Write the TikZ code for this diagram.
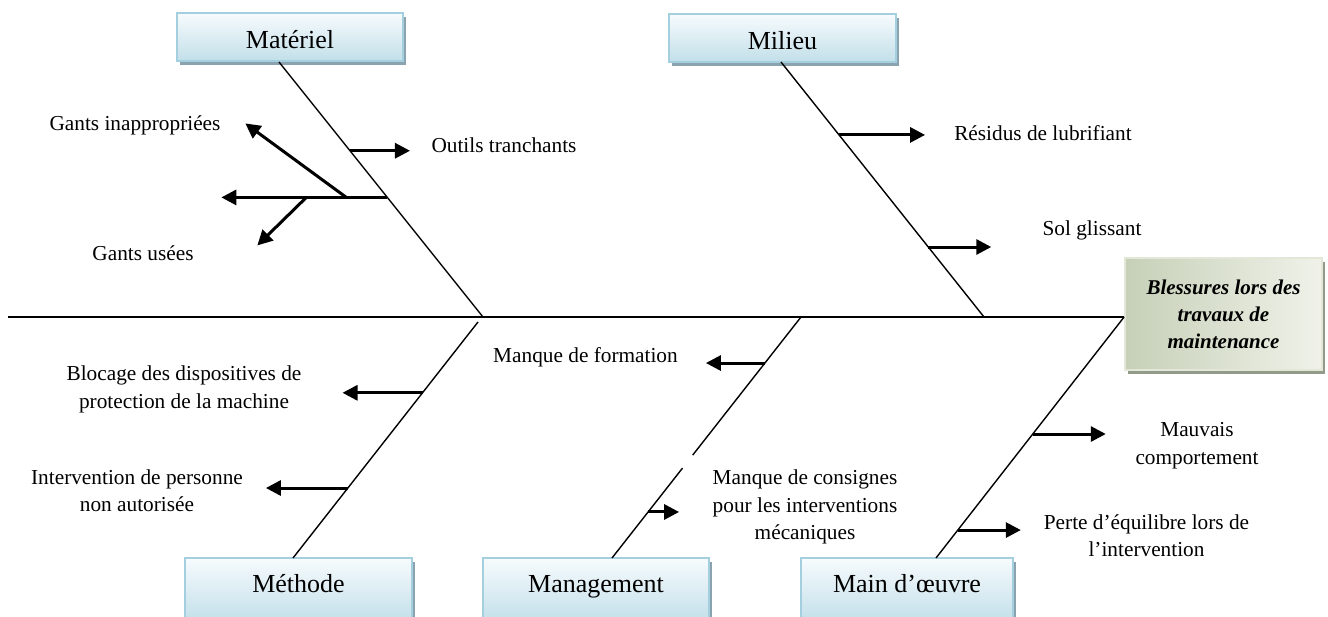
\documentclass[tikz,border=0pt]{standalone}
\usepackage{fontspec}
\setmainfont{Liberation Serif}
\usetikzlibrary{arrows.meta,calc,shadows}

\definecolor{boxedge}{RGB}{163,207,222}
\definecolor{boxtop}{RGB}{247,251,253}
\definecolor{boxbot}{RGB}{194,223,233}
\definecolor{boxshadow}{RGB}{138,163,174}
\definecolor{effdark}{RGB}{198,208,184}
\definecolor{efflight}{RGB}{240,242,233}
\definecolor{effedge}{RGB}{226,231,216}
\definecolor{effshadow}{RGB}{146,155,138}

\tikzset{
  catbox/.style={draw=boxedge, line width=1.8pt, top color=boxtop, bottom color=boxbot,
    minimum width=226pt, minimum height=48pt, inner sep=0pt,
    font=\fontsize{26}{30}\selectfont,
    drop shadow={shadow xshift=3pt, shadow yshift=-4pt, fill=boxshadow, opacity=1}},
  cathigh/.style={text height=22pt, text depth=0pt},
  catlow/.style={minimum height=64pt, text height=25pt, text depth=20pt},
  effbox/.style={draw=effedge, line width=1.8pt, left color=effdark, right color=efflight,
    minimum width=197pt, minimum height=112pt, inner sep=0pt, align=center,
    font=\fontsize{21}{27}\selectfont\bfseries\itshape,
    drop shadow={shadow xshift=3pt, shadow yshift=-4pt, fill=effshadow, opacity=1}},
  bone/.style={line width=1.4pt, black},
  twig/.style={line width=3pt, black, -{Triangle[length=15pt,width=15pt]}},
  lbl/.style={font=\fontsize{21.3}{27.5}\selectfont, align=center, inner sep=0pt}
}

\begin{document}
\begin{tikzpicture}[x=1pt, y=-1pt]
\useasboundingbox (0,0) rectangle (1328,616);
\fill[white] (0,0) rectangle (1328,616);
\clip (0,0) rectangle (1328,616);

% ---- category boxes and effect box
\node[catbox, cathigh] (mat) at (290,37) {Matériel};
\node[catbox, cathigh, minimum width=227pt] (mil) at (782.5,38) {Milieu};
\node[catbox, catlow, minimum width=227pt] (met) at (298.5,590) {Méthode};
\node[catbox, catlow] (mgm) at (596,590) {Management};
\node[catbox, catlow, minimum width=212pt] (mdo) at (907,590) {Main d’œuvre};
\node[effbox] (eff) at (1223.5,314) {Blessures lors des\\travaux de\\maintenance};

% ---- spine and bones
\coordinate (spL) at (8,317);
\coordinate (spR) at (spL -| eff.west);
\coordinate (matTop) at (279,62);   \coordinate (matJoin) at (483,317);
\coordinate (milTop) at (781,62);   \coordinate (milJoin) at (984,317);
\coordinate (metTop) at (293,558);  \coordinate (metJoin) at (478,322);
\coordinate (mgmTop) at (612,558);  \coordinate (mgmJoin) at (801,317);
\coordinate (mdoTop) at (936,558);  \coordinate (mdoJoin) at (spR);

\draw[bone] (spL) -- (spR);
\draw[bone] (matTop) -- (matJoin);
\draw[bone] (milTop) -- (milJoin);
\draw[bone] (metTop) -- (metJoin);
\draw[bone] (mgmTop) -- ($(mgmTop)!0.373!(mgmJoin)$);
\draw[bone] ($(mgmTop)!0.427!(mgmJoin)$) -- (mgmJoin);
\draw[bone] (mdoTop) -- (mdoJoin);

% ---- Matériel
\coordinate (a1) at ($(matTop)!0.348!(matJoin)$);
\coordinate (a1e) at ($(a1)+(60,0)$);
\node[lbl] (outils) at (504,145) {Outils tranchants};
\draw[twig] (a1) -- (a1e);

\coordinate (a2) at ($(matTop)!0.531!(matJoin)$);
\coordinate (a2e) at ($(a2)+(-166,0)$);
\coordinate (g1) at ($(a2)+(-41,0)$);
\coordinate (g1e) at ($(g1)+(-101,-74)$);
\coordinate (g2) at ($(a2)+(-81,0)$);
\coordinate (g2e) at ($(g2)+(-49,48)$);
\node[lbl] (gantsI) at (135,125) {Gants inappropriées};
\node[lbl] (gantsU) at (143,253) {Gants usées};
\draw[twig] (a2) -- (a2e);
\draw[twig] (g1) -- (g1e);
\draw[twig] (g2) -- (g2e);

% ---- Milieu
\coordinate (r1) at ($(milTop)!0.286!(milJoin)$);
\coordinate (r1e) at ($(r1)+(86,0)$);
\node[lbl] (residus) at (1043,133) {Résidus de lubrifiant};
\draw[twig] (r1) -- (r1e);

\coordinate (r2) at ($(milTop)!0.7255!(milJoin)$);
\coordinate (r2e) at ($(r2)+(63,0)$);
\node[lbl] (sol) at (1092,230) {Sol glissant};
\draw[twig] (r2) -- (r2e);

% ---- Méthode
\coordinate (b1) at ($(metTop)!0.700!(metJoin)$);
\coordinate (b1e) at ($(b1)+(-80,0)$);
\node[lbl] (blocage) at (184,389.5) {Blocage des dispositives de\\protection de la machine};
\draw[twig] (b1) -- (b1e);

\coordinate (b2) at ($(metTop)!0.2966!(metJoin)$);
\coordinate (b2e) at ($(b2)+(-82,0)$);
\node[lbl] (interv) at (137,490.5) {Intervention de personne\\non autorisée};
\draw[twig] (b2) -- (b2e);

% ---- Management
\coordinate (c1) at ($(mgmTop)!0.809!(mgmJoin)$);
\coordinate (c1e) at ($(c1)+(-59,0)$);
\node[lbl] (formation) at (585.5,357) {Manque de formation};
\draw[twig] (c1) -- (c1e);

\coordinate (c2) at ($(mgmTop)!0.191!(mgmJoin)$);
\coordinate (c2e) at ($(c2)+(31,0)$);
\node[lbl] (consignes) at (805,507) {Manque de consignes\\pour les interventions\\mécaniques};
\draw[twig] (c2) -- (c2e);

% ---- Main d'oeuvre
\coordinate (d1) at ($(mdoTop)!0.5145!(mdoJoin)$);
\coordinate (d1e) at ($(d1)+(73,0)$);
\node[lbl] (mauvais) at (1197,445.5) {Mauvais\\comportement};
\draw[twig] (d1) -- (d1e);

\coordinate (d2) at ($(mdoTop)!0.116!(mdoJoin)$);
\coordinate (d2e) at ($(d2)+(63,0)$);
\node[lbl] (perte) at (1146.5,535.5) {Perte d’équilibre lors de\\l’intervention};
\draw[twig] (d2) -- (d2e);
\end{tikzpicture}
\end{document}
